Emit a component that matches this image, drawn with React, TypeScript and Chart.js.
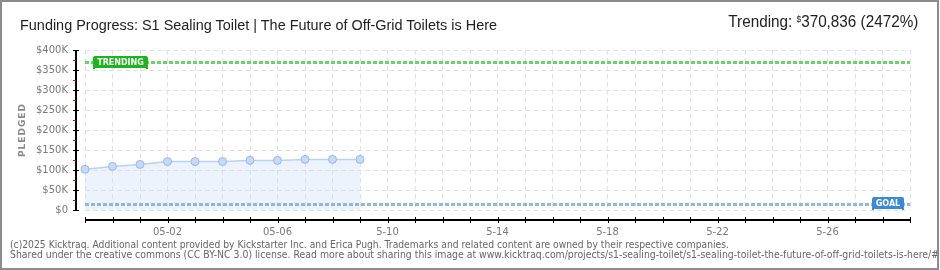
import React, { useEffect, useLayoutEffect, useRef } from 'react';
import { Chart, registerables } from 'chart.js';

Chart.register(...registerables);

// ---- data ----
const days = [
  '04-29', '04-30', '05-01', '05-02', '05-03', '05-04', '05-05', '05-06', '05-07', '05-08',
  '05-09', '05-10', '05-11', '05-12', '05-13', '05-14', '05-15', '05-16', '05-17', '05-18',
  '05-19', '05-20', '05-21', '05-22', '05-23', '05-24', '05-25', '05-26', '05-27', '05-28', '05-29',
];
const pledged = [101700, 109000, 114000, 121000, 121000, 121000, 124000, 124000, 126500, 126500, 126500];
const xTickDays = ['05-02', '05-06', '05-10', '05-14', '05-18', '05-22', '05-26'];
const xTickTexts = ['05-02', '05-06', '5-10', '5-14', '5-18', '5-22', '5-26'];
const yMax = 400000;
const yStep = 50000;
const yMinorStep = 25000;
const goal = 15000;
const trending = 370836;
const trendingPct = 2472;

const titleText = 'Funding Progress: S1 Sealing Toilet | The Future of Off-Grid Toilets is Here';
const footerLine1 =
  '(c)2025 Kicktraq. Additional content provided by Kickstarter Inc. and Erica Pugh. Trademarks and related content are owned by their respective companies.';
const footerLine2 =
  'Shared under the creative commons (CC BY-NC 3.0) license. Read more about sharing this image at www.kicktraq.com/projects/s1-sealing-toilet/s1-sealing-toilet-the-future-of-off-grid-toilets-is-here/#';

const fmtMoney = (v: number) => v.toLocaleString('en-US');

const overlay = {
  id: 'overlay',
  afterDatasetsDraw(chart: any) {
    const { ctx, chartArea, scales } = chart;
    const { left, right } = chartArea;
    const y = scales.y;
    const dash = (val: number, color: string) => {
      const py = Math.round(y.getPixelForValue(val));
      ctx.save();
      ctx.strokeStyle = color;
      ctx.lineWidth = 3;
      ctx.setLineDash([4, 2]);
      ctx.beginPath();
      ctx.moveTo(left, py + 0.5);
      ctx.lineTo(right, py + 0.5);
      ctx.stroke();
      ctx.restore();
    };
    dash(trending, '#6ad36a');
    dash(goal, '#93b6e1');
  },
  afterDraw(chart: any) {
    const { ctx, chartArea, scales } = chart;
    const { left, right, top, bottom } = chartArea;
    const x = scales.x;
    const y = scales.y;
    ctx.save();

    // y axis
    const axX = Math.round(left) - 9;
    ctx.fillStyle = '#000';
    ctx.fillRect(axX - 1, Math.round(top), 2, Math.round(bottom - top) + 1);
    for (let v = 0; v <= yMax; v += yMinorStep) {
      const py = Math.round(y.getPixelForValue(v));
      if (v % yStep === 0) {
        ctx.fillStyle = '#000';
        ctx.fillRect(axX - 3, py, 6, 1);
      } else {
        ctx.fillStyle = '#e00000';
        ctx.fillRect(axX - 3, py, 3, 1);
      }
    }

    // x axis
    const axY = Math.round(bottom) + 10;
    const x0 = Math.round(x.getPixelForValue(0));
    const xN = Math.round(x.getPixelForValue(days.length - 1));
    ctx.fillStyle = '#000';
    ctx.fillRect(x0, axY - 1, xN - x0 + 1, 2);
    for (let i = 0; i < days.length; i++) {
      const px = Math.round(x.getPixelForValue(i));
      ctx.fillRect(px, axY - 3, 1, 6);
    }

    // badges
    const badge = (text: string, bx: number, by: number, w: number, h: number, color: string) => {
      ctx.fillStyle = color;
      ctx.beginPath();
      ctx.roundRect(bx, by, w, h, 2);
      ctx.fill();
      ctx.fillRect(bx, by + h - 1, 2, 2);
      ctx.fillRect(bx + w - 2, by + h - 1, 2, 2);
      ctx.fillStyle = '#fff';
      ctx.font = 'bold 8px "DejaVu Sans"';
      ctx.textAlign = 'center';
      ctx.textBaseline = 'middle';
      ctx.fillText(text, bx + w / 2, by + h / 2 + 0.5);
    };
    const ty = Math.round(y.getPixelForValue(trending));
    badge('TRENDING', Math.round(left) + 8, ty - 6, 55, 12, '#1db41d');
    const gy = Math.round(y.getPixelForValue(goal));
    badge('GOAL', Math.round(right) - 38, gy - 7, 32, 12, '#3a88d8');

    // y title
    ctx.translate(23, (top + bottom) / 2);
    ctx.rotate(-Math.PI / 2);
    ctx.fillStyle = '#8a8a8a';
    ctx.font = 'bold 9px "DejaVu Sans"';
    (ctx as any).letterSpacing = '1px';
    ctx.textAlign = 'center';
    ctx.textBaseline = 'middle';
    ctx.fillText('PLEDGED', 0, 0);
    ctx.restore();
  },
};

function Fit({ width, origin, style, children }: any) {
  const ref = useRef<HTMLDivElement>(null);
  useLayoutEffect(() => {
    const el = ref.current;
    if (!el) return;
    el.style.transform = 'none';
    const w = el.getBoundingClientRect().width;
    if (w > 0) el.style.transform = `scaleX(${width / w})`;
  });
  return (
    <div ref={ref} style={{ position: 'absolute', whiteSpace: 'nowrap', transformOrigin: origin, ...style }}>
      {children}
    </div>
  );
}

const footerStyle: React.CSSProperties = {
  left: 10,
  fontFamily: '"DejaVu Sans", sans-serif',
  fontSize: 10,
  lineHeight: '10px',
  color: '#666',
};

export default function App() {
  const canvasRef = useRef<HTMLCanvasElement>(null);

  useEffect(() => {
    const canvas = canvasRef.current;
    if (!canvas) return;
    const tickFont = { family: '"DejaVu Sans", sans-serif', size: 10 };
    const chart = new Chart(canvas, {
      type: 'line',
      data: {
        labels: days,
        datasets: [
          {
            data: pledged,
            borderColor: '#b8d2f0',
            borderWidth: 1.5,
            backgroundColor: 'rgba(200,222,248,0.35)',
            fill: 'origin',
            pointRadius: 4,
            pointBackgroundColor: '#c3dbf6',
            pointBorderColor: '#9ab8de',
            pointBorderWidth: 1,
            tension: 0,
            clip: false as any,
          },
        ],
      },
      options: {
        responsive: false,
        animation: false,
        events: [],
        layout: { padding: { left: 0, right: 30, top: 50, bottom: 30 } },
        plugins: { legend: { display: false }, tooltip: { enabled: false }, title: { display: false } },
        scales: {
          x: {
            type: 'category',
            offset: false,
            grid: { color: '#e2e2e2', drawTicks: false, lineWidth: 1 },
            border: { display: false, dash: [5, 3] },
            ticks: {
              autoSkip: false,
              maxRotation: 0,
              padding: 16,
              color: '#7a7a7a',
              font: tickFont,
              callback: (_v: any, i: number) => {
                const k = xTickDays.indexOf(days[i]);
                return k >= 0 ? xTickTexts[k] : '';
              },
            },
            afterFit: (s: any) => {
              s.height = 30;
            },
          },
          y: {
            min: 0,
            max: yMax,
            grid: { color: '#e2e2e2', drawTicks: false, lineWidth: 1 },
            border: { display: false, dash: [5, 3] },
            ticks: {
              stepSize: yStep,
              padding: 17,
              color: '#7a7a7a',
              font: tickFont,
              callback: (v: any) => (v === 0 ? '$0' : '$' + v / 1000 + 'K'),
            },
            afterFit: (s: any) => {
              s.width = 85;
            },
          },
        },
      } as any,
      plugins: [overlay],
    });
    return () => chart.destroy();
  }, []);

  return (
    <div style={{ position: 'fixed', left: 0, top: 0, width: 940, height: 270, background: '#fff', overflow: 'hidden' }}>
      <canvas ref={canvasRef} width={940} height={270} style={{ position: 'absolute', left: 0, top: 0, width: 940, height: 270 }} />
      <Fit
        width={477}
        origin="left"
        style={{ left: 20, top: 17, fontFamily: '"Liberation Sans Narrow", "Liberation Sans", sans-serif', fontSize: 15.5, lineHeight: '15.5px', color: '#222' }}
      >
        {titleText}
      </Fit>
      <Fit
        width={190}
        origin="right"
        style={{ right: 22, top: 13, fontFamily: '"Liberation Sans Narrow", "Liberation Sans", sans-serif', fontSize: 16.5, lineHeight: '16.5px', color: '#222' }}
      >
        {'Trending: '}
        <span style={{ fontSize: 9, verticalAlign: 'top', lineHeight: '9px', position: 'relative', top: 2 }}>$</span>
        {`${fmtMoney(trending)} (${trendingPct}%)`}
      </Fit>
      <Fit width={719} origin="left" style={{ ...footerStyle, top: 239.5 }}>
        {footerLine1}
      </Fit>
      <Fit width={929} origin="left" style={{ ...footerStyle, top: 249.5 }}>
        {footerLine2}
      </Fit>
      <div
        style={{ position: 'absolute', left: 0, top: 0, width: 939, height: 270, border: '2px solid #8c8c8c', boxSizing: 'border-box', pointerEvents: 'none' }}
      />
    </div>
  );
}
